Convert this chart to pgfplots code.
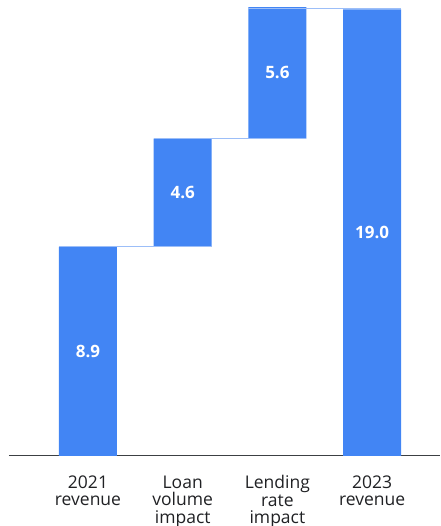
\documentclass[border=0pt]{standalone}
\usepackage{fontspec}
\setmainfont{Open Sans}
\usepackage{pgfplots}
\pgfplotsset{compat=1.18}
\definecolor{gblue}{HTML}{4285F4}
\definecolor{conn}{HTML}{9CBEF8}
\definecolor{axisc}{HTML}{3C4043}
\definecolor{txt}{HTML}{202124}
\begin{document}
\begin{tikzpicture}
\useasboundingbox (0,0) rectangle (440pt,526pt);
\pgfplotsset{wfbase/.style={
  at={(9pt,70pt)}, anchor=south west,
  scale only axis, width=431pt, height=456pt,
  xmin=-0.834, xmax=3.717, ymin=0, ymax=19.40,
}}
\begin{axis}[wfbase,
  ybar stacked, bar width=58pt,
  axis x line*=bottom, axis y line=none,
  x axis line style={-, draw=axisc, line width=1pt},
  ytick=\empty,
  xtick={0,1,2,3},
  xticklabels={{2021\\revenue},{Loan\\volume\\impact},{Lending\\rate\\impact},{2023\\revenue}},
  major tick length=0pt,
  x tick label style={align=center, font=\fontsize{17.5}{17.5}\selectfont, text=txt, yshift=-16pt},
]
\addplot[draw=none, fill=none] coordinates {(0,0) (1,8.9) (2,13.5) (3,0)};
\addplot[fill=gblue, draw=none] coordinates {(0,8.9) (1,4.6) (2,5.6) (3,19.0)};
\end{axis}
\begin{axis}[wfbase, hide axis, clip=false]
\addplot[conn, line width=1pt] coordinates {(-0.306,8.9) (1.306,8.9)};
\addplot[conn, line width=1pt] coordinates {(0.694,13.5) (2.306,13.5)};
\addplot[conn, line width=1pt] coordinates {(1.694,19.05) (3.306,19.05)};
\addplot[draw=none, mark=none, nodes near coords, point meta=explicit symbolic,
  every node near coord/.append style={anchor=center, text=white, font=\bfseries\fontsize{17}{18}\selectfont}]
  coordinates {(0,4.45) [8.9] (1,11.2) [4.6] (2,16.3) [5.6] (3,9.5) [19.0]};
\end{axis}
\end{tikzpicture}
\end{document}
